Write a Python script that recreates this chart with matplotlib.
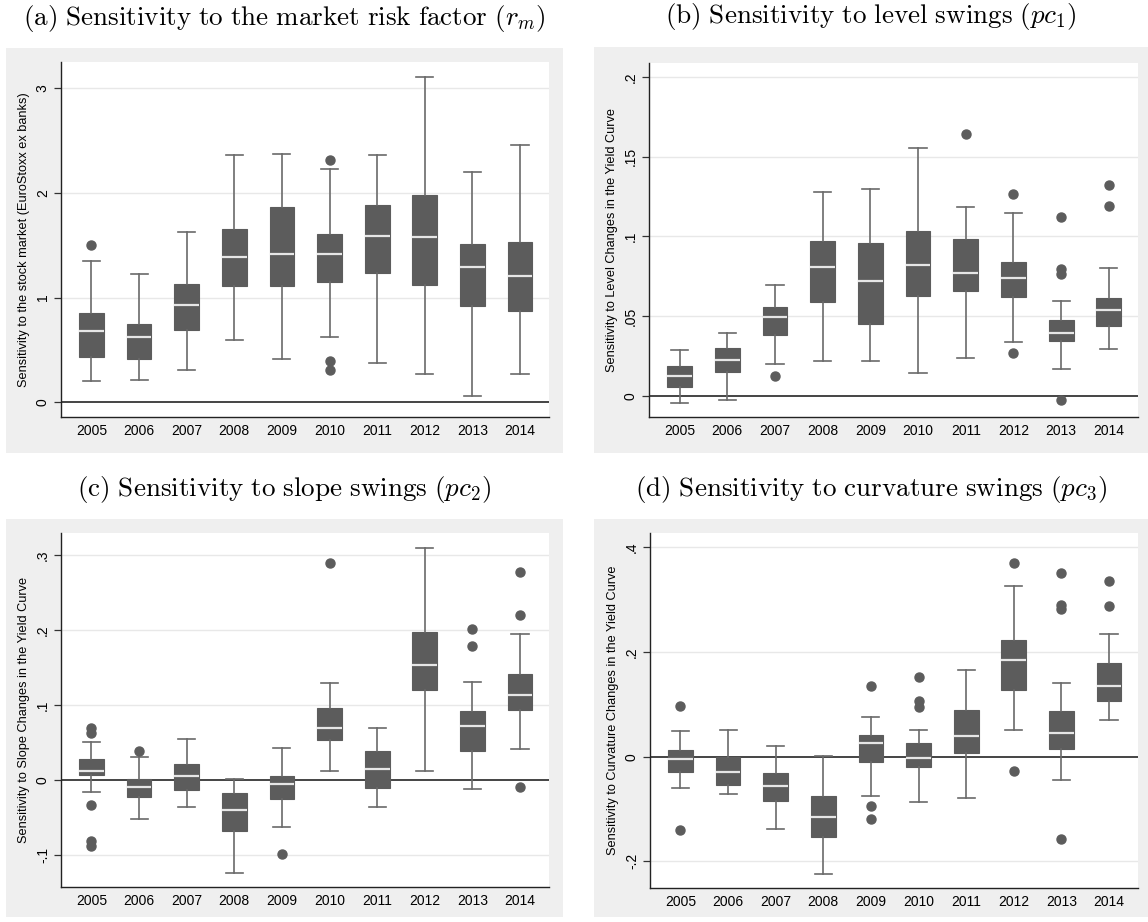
import matplotlib
matplotlib.use('Agg')
import matplotlib.pyplot as plt
from matplotlib.patches import Rectangle

plt.rcParams['font.family'] = ['Liberation Sans', 'DejaVu Sans']
plt.rcParams['mathtext.fontset'] = 'cm'

years = ['2005', '2006', '2007', '2008', '2009', '2010', '2011', '2012', '2013', '2014']

# (a) market risk factor
a_lo = [0.20, 0.213, 0.312, 0.596, 0.411, 0.624, 0.376, 0.274, 0.06, 0.274]
a_q1 = [0.433, 0.414, 0.694, 1.111, 1.108, 1.150, 1.236, 1.121, 0.917, 0.869]
a_med = [0.68, 0.62, 0.93, 1.392, 1.414, 1.417, 1.592, 1.58, 1.29, 1.204]
a_q3 = [0.85, 0.75, 1.13, 1.66, 1.863, 1.608, 1.882, 1.981, 1.51, 1.532]
a_hi = [1.35, 1.23, 1.627, 2.363, 2.376, 2.229, 2.36, 3.111, 2.204, 2.455]
a_out = [[1.50], [], [], [], [], [2.312, 0.392, 0.312], [], [], [], []]

# (b) level
b_lo = [-0.0044, -0.0023, 0.0203, 0.022, 0.022, 0.0144, 0.0236, 0.0339, 0.0167, 0.0293]
b_q1 = [0.00565, 0.0151, 0.0383, 0.0588, 0.0448, 0.0623, 0.0655, 0.0621, 0.0345, 0.0441]
b_med = [0.0128, 0.0228, 0.0494, 0.081, 0.0718, 0.0818, 0.077, 0.0738, 0.0395, 0.0536]
b_q3 = [0.019, 0.0303, 0.0559, 0.0973, 0.0956, 0.1031, 0.0983, 0.0841, 0.0477, 0.0613]
b_hi = [0.0289, 0.0397, 0.0695, 0.128, 0.1295, 0.1556, 0.1182, 0.1144, 0.0596, 0.0803]
b_out = [[], [], [0.0126], [], [], [], [0.1642], [0.1268, 0.0272],
         [0.1123, 0.0795, 0.0766, -0.0025], [0.1324, 0.1192]]

# (c) slope
c_lo = [-0.0156, -0.0525, -0.0356, -0.1246, -0.0632, 0.0125, -0.0356, 0.0125, -0.0116, 0.0414]
c_q1 = [0.0067, -0.0223, -0.0129, -0.0681, -0.0254, 0.053, -0.0111, 0.1197, 0.0387, 0.093]
c_med = [0.0116, -0.0098, 0.0049, -0.0405, -0.0053, 0.0694, 0.0142, 0.1535, 0.0721, 0.113]
c_q3 = [0.028, 0.0013, 0.0214, -0.0174, 0.0058, 0.0961, 0.0387, 0.1976, 0.0926, 0.1411]
c_hi = [0.0503, 0.0307, 0.0547, 0.0009, 0.0427, 0.129, 0.069, 0.3106, 0.1313, 0.1945]
c_out = [[0.069, 0.0627, -0.0334, -0.081, -0.0886], [0.0392], [], [], [-0.0984],
         [0.2893], [], [], [0.202, 0.1794], [0.2777, 0.2203, -0.0093]]

# (d) curvature
d_lo = [-0.0607, -0.0722, -0.138, -0.225, -0.0748, -0.0869, -0.0792, 0.0505, -0.0447, 0.0703]
d_q1 = [-0.0294, -0.0543, -0.0843, -0.1534, -0.0096, -0.0198, 0.0077, 0.1278, 0.0141, 0.1073]
d_med = [-0.0038, -0.030, -0.0562, -0.115, 0.0262, -0.0019, 0.039, 0.1853, 0.0447, 0.1342]
d_q3 = [0.0121, -0.0006, -0.0307, -0.076, 0.0415, 0.0268, 0.0888, 0.2236, 0.0875, 0.1783]
d_hi = [0.0492, 0.0518, 0.0204, 0.0006, 0.0754, 0.0518, 0.1661, 0.3259, 0.1406, 0.2345]
d_out = [[0.0965, -0.14], [], [], [], [0.1348, -0.0939, -0.1182],
         [0.1514, 0.1061, 0.0958], [], [0.3706, -0.0281],
         [0.352, 0.29, 0.2818, -0.158], [0.3367, 0.2882]]

W, H = 1148, 922
fig = plt.figure(figsize=(W / 100, H / 100), dpi=100)

box_col = '#5c5c5c'
bg_col = '#efefef'


def px_axes(l, t, r, b):
    return [l / W, 1 - b / H, (r - l) / W, (b - t) / H]


panels = [
    dict(lo=a_lo, q1=a_q1, med=a_med, q3=a_q3, hi=a_hi, out=a_out,
         ylim=(-0.14, 3.25), ticks=[0, 1, 2, 3], tlabels=['0', '1', '2', '3'],
         ylabel='Sensitivity to the stock market (EuroStoxx ex banks)',
         title=r'$\mathrm{(a)\ Sensitivity\ to\ the\ market\ risk\ factor\ (}r_m\mathrm{)}$',
         ax=(61, 62, 549, 417), bg=(6, 48, 563, 453)),
    dict(lo=b_lo, q1=b_q1, med=b_med, q3=b_q3, hi=b_hi, out=b_out,
         ylim=(-0.0132, 0.2086), ticks=[0, 0.05, 0.1, 0.15, 0.2],
         tlabels=['0', '.05', '.1', '.15', '.2'],
         ylabel='Sensitivity to Level Changes in the Yield Curve',
         title=r'$\mathrm{(b)\ Sensitivity\ to\ level\ swings\ (}pc_1\mathrm{)}$',
         ax=(649, 63, 1138, 417), bg=(594, 47, 1148, 453)),
    dict(lo=c_lo, q1=c_q1, med=c_med, q3=c_q3, hi=c_hi, out=c_out,
         ylim=(-0.143, 0.33), ticks=[-0.1, 0, 0.1, 0.2, 0.3],
         tlabels=['-.1', '0', '.1', '.2', '.3'],
         ylabel='Sensitivity to Slope Changes in the Yield Curve',
         title=r'$\mathrm{(c)\ Sensitivity\ to\ slope\ swings\ (}pc_2\mathrm{)}$',
         ax=(61, 533, 549, 887), bg=(6, 519, 563, 917)),
    dict(lo=d_lo, q1=d_q1, med=d_med, q3=d_q3, hi=d_hi, out=d_out,
         ylim=(-0.251, 0.4275), ticks=[-0.2, 0, 0.2, 0.4],
         tlabels=['-.2', '0', '.2', '.4'],
         ylabel='Sensitivity to Curvature Changes in the Yield Curve',
         title=r'$\mathrm{(d)\ Sensitivity\ to\ curvature\ swings\ (}pc_3\mathrm{)}$',
         ax=(650, 533, 1138, 888), bg=(594, 519, 1148, 917)),
]

for p in panels:
    l, t, r, b = p['bg']
    fig.patches.append(Rectangle((l / W, 1 - b / H), (r - l) / W, (b - t) / H,
                                 transform=fig.transFigure, facecolor=bg_col,
                                 edgecolor='none', zorder=-1))
    fig.text((l + r) / 2 / W, 1 - (t - 30) / H, p['title'], ha='center', va='center',
             fontsize=19.5)

    ax = fig.add_axes(px_axes(*p['ax']))
    ax.set_facecolor('white')
    stats = []
    for i in range(len(years)):
        stats.append(dict(med=p['med'][i], q1=p['q1'][i], q3=p['q3'][i],
                          whislo=p['lo'][i], whishi=p['hi'][i],
                          fliers=p['out'][i], label=years[i]))
    ax.bxp(stats, positions=range(len(years)), widths=0.52, patch_artist=True,
           showfliers=True, capwidths=0.36,
           boxprops=dict(facecolor=box_col, edgecolor=box_col, linewidth=0.8),
           medianprops=dict(color='#e6e6e6', linewidth=1.6),
           whiskerprops=dict(color='#6a6a6a', linewidth=1.2),
           capprops=dict(color='#6a6a6a', linewidth=1.2),
           flierprops=dict(marker='o', markerfacecolor=box_col, markeredgecolor=box_col,
                           markersize=6.5),
           zorder=3)
    ax.axhline(0, color='#444444', linewidth=1.4, zorder=2)
    ax.set_xlim(-0.64, len(years) - 1 + 0.61)
    ax.set_ylim(*p['ylim'])
    ax.set_yticks(p['ticks'])
    ax.set_yticklabels(p['tlabels'], rotation=90, va='center')
    for tk in p['ticks']:
        if tk != 0:
            ax.axhline(tk, color='#e8e8e8', linewidth=1.0, zorder=1)
    ax.set_xticks(range(len(years)))
    ax.set_xticklabels(years)
    ax.tick_params(axis='x', length=0, labelsize=10, pad=5)
    ax.tick_params(axis='y', length=5, width=0.9, labelsize=10, pad=3, color='#333333')
    ax.set_ylabel(p['ylabel'], fontsize=9.2, labelpad=4)
    for s in ['top', 'right']:
        ax.spines[s].set_visible(False)
    for s in ['left', 'bottom']:
        ax.spines[s].set_color('#222222')
        ax.spines[s].set_linewidth(1.0)

fig.savefig('out.png', dpi=100)
